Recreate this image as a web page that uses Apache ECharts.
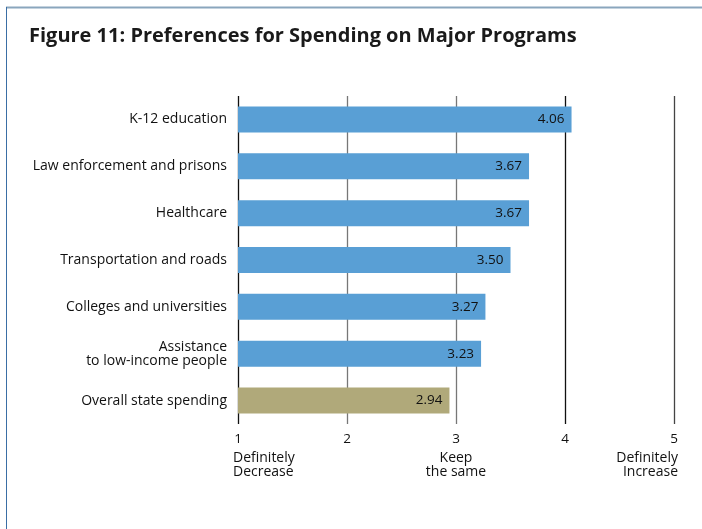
<!DOCTYPE html>
<html><head><meta charset="utf-8">
<script src="https://cdn.jsdelivr.net/npm/echarts@6/dist/echarts.min.js"></script>
<style>html,body{margin:0;padding:0;background:#fff}#c{width:702px;height:529px}</style>
</head><body><div id="c"></div>
<script>
const categories = ["K-12 education","Law enforcement and prisons","Healthcare","Transportation and roads","Colleges and universities","Assistance\nto low-income people","Overall state spending"];
const values = [4.06,3.67,3.67,3.50,3.27,3.23,2.94];
const barColors = ["#599fd5","#599fd5","#599fd5","#599fd5","#599fd5","#599fd5","#b0a97a"];
const tickLabels = ["1","2","3","4","5"];
const scaleNotes = [["Definitely\nDecrease",1,"left"],["Keep\nthe same",3,"center"],["Definitely\nIncrease",5,"right"]];

const FONT = "'Open Sans', Lato, sans-serif";
const chart = echarts.init(document.getElementById('c'));
const option = {
  animation:false,
  grid:{left:238,right:28,top:96,bottom:105},
  title:{text:"Figure 11: Preferences for Spending on Major Programs",left:24,top:21,
    textStyle:{fontFamily:FONT,fontWeight:'bold',fontSize:20,color:'#1a1a1a'}},
  xAxis:{type:'value',min:1,max:5,interval:1,
    axisLine:{show:false},axisTick:{show:false},
    axisLabel:{fontFamily:FONT,fontSize:13.5,color:'#111',margin:8,
      formatter:v=>tickLabels[Math.round(v)-1]},
    splitLine:{show:true,lineStyle:{color:['#111','#777','#777','#111','#444'],width:1.3}}},
  yAxis:{type:'category',data:categories,inverse:true,
    axisLine:{show:false},axisTick:{show:false},
    axisLabel:{fontFamily:FONT,fontSize:14,color:'#111',margin:11,align:'right',lineHeight:14}},
  series:[{type:'bar',barWidth:26,
    data:values.map((v,i)=>({value:v,itemStyle:{color:barColors[i]}})),
    label:{show:true,position:'insideRight',distance:7,fontFamily:FONT,fontSize:13.5,color:'#111',
      formatter:p=>p.value.toFixed(2)}}],
  graphic:[
    {type:'line',shape:{x1:6,y1:7.5,x2:702,y2:7.5},style:{stroke:'#8aa6bd',lineWidth:2}},
    {type:'line',shape:{x1:6.5,y1:7,x2:6.5,y2:529},style:{stroke:'#3a6ea5',lineWidth:1}}
  ]
};
chart.setOption(option);
scaleNotes.forEach(([t,v,al])=>{
  let x = chart.convertToPixel({xAxisIndex:0},v);
  if(al==='left') x -= 5; else if(al==='right') x += 4;
  option.graphic.push({type:'text',x:x,y:451,style:{text:t,font:"14px "+FONT,fill:'#111',align:al,lineHeight:14}});
});
chart.setOption({graphic:option.graphic});
</script></body></html>
